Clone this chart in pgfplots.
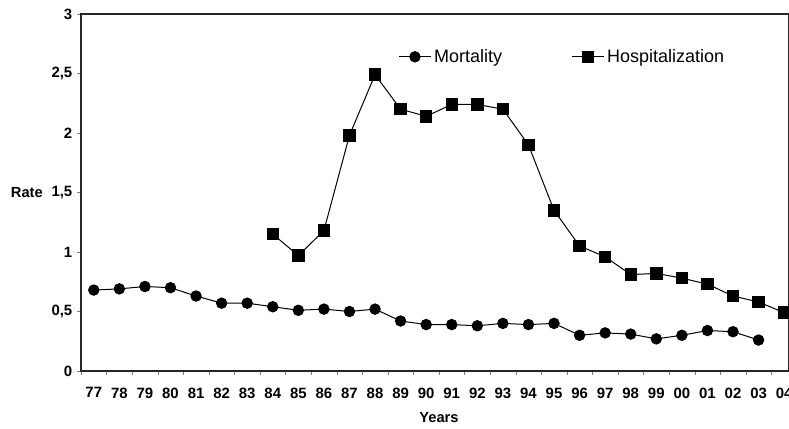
\documentclass[border=0pt]{standalone}
\usepackage{pgfplots}
\pgfplotsset{compat=1.18}
\usepackage{fontspec}
\setmainfont{Liberation Sans}

\begin{document}
\begin{tikzpicture}
\begin{axis}[
name=ax,
scale only axis,
width=531pt, height=267.75pt,
xmin=-0.5, xmax=27.19,
ymin=0, ymax=3,
xtick={0,...,27},
xticklabels={77,78,79,80,81,82,83,84,85,86,87,88,89,90,91,92,93,94,95,96,97,98,99,00,01,02,03,04},
minor xtick={-0.5,0.5,...,27.5},
major x tick style={draw=none},
ytick={0,0.5,...,3},
tick align=outside,
tick pos=left,
major tick length=3pt,
minor tick length=3pt,
/pgf/number format/assume math mode=true,
/pgf/number format/use comma,
tick label style={font=\fontsize{11.2}{13}\selectfont\bfseries},
xticklabel style={yshift=-6pt},
axis line style={line width=0.9pt, black!85},
every axis x label/.style={at={(axis cs:13.5,0)}, anchor=north, yshift=-31pt, inner sep=0pt, font=\fontsize{11}{13}\selectfont\bfseries},
every axis y label/.style={at={(axis description cs:0,0.5)}, anchor=east, xshift=-28.5pt, inner sep=0pt, font=\fontsize{11}{13}\selectfont\bfseries},
xlabel={Years},
ylabel={Rate},
legend columns=2,
legend style={at={(0.448,0.88)}, anchor=west, draw=none, fill=none, inner sep=0pt,
  font=\fontsize{13.5}{15}\selectfont,
  /tikz/every even column/.append style={column sep=50pt}},
legend image code/.code={\draw[mark repeat=2,mark phase=2] plot coordinates {(0pt,0pt)(12pt,0pt)(24pt,0pt)};},
]
\addplot[black, line width=0.75pt, mark=*, mark size=3.9pt, mark options={solid, fill=black}] coordinates {
(0,0.68) (1,0.69) (2,0.71) (3,0.70) (4,0.63) (5,0.57) (6,0.57) (7,0.54)
(8,0.51) (9,0.52) (10,0.50) (11,0.52) (12,0.42) (13,0.39) (14,0.39) (15,0.38)
(16,0.40) (17,0.39) (18,0.40) (19,0.30) (20,0.32) (21,0.31) (22,0.27) (23,0.30)
(24,0.34) (25,0.33) (26,0.26)
};
\addplot[black, line width=0.75pt, mark=square*, mark size=4.3pt, mark options={solid, fill=black}] coordinates {
(7,1.15) (8,0.97) (9,1.18) (10,1.98) (11,2.49) (12,2.20) (13,2.14) (14,2.24)
(15,2.24) (16,2.20) (17,1.90) (18,1.35) (19,1.05) (20,0.96) (21,0.81) (22,0.82)
(23,0.78) (24,0.73) (25,0.63) (26,0.58) (27,0.49)
};
\legend{Mortality,Hospitalization}
\end{axis}
\path (ax.south west) ++(-60.75pt,-43.5pt) coordinate (bl);
\path (ax.north east) ++(0pt,10.5pt) coordinate (tr);
\pgfresetboundingbox
\path (bl) rectangle (tr);
\end{tikzpicture}
\end{document}
